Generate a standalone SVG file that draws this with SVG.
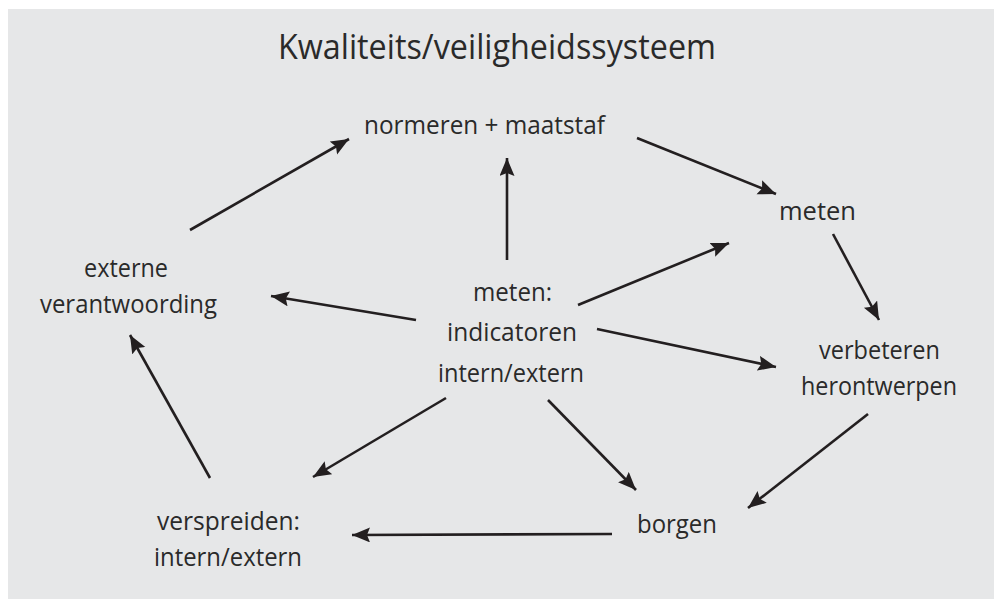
<svg xmlns="http://www.w3.org/2000/svg" width="994" height="599" viewBox="0 0 994 599">
<style>
.t{font-family:"Open Sans","Noto Sans",sans-serif;font-size:26px;fill:#2a2a2a;text-anchor:middle}
.title{font-family:"Open Sans","Noto Sans",sans-serif;font-size:34px;fill:#2a2a2a;text-anchor:middle}
.c line{stroke:#231f20;stroke-width:2.6;marker-end:url(#ah)}
</style>
<defs>
<marker id="ah" markerUnits="userSpaceOnUse" markerWidth="20" markerHeight="16" refX="18" refY="7.5" orient="auto">
<path d="M0,0 L18,7.5 L0,15 L3,7.5 z" fill="#231f20"/>
</marker>
</defs>
<rect x="0" y="0" width="994" height="599" fill="#ffffff"/>
<rect x="8" y="9" width="986" height="590" fill="#e6e7e8"/>
<text class="title" x="497" y="59" textLength="438" lengthAdjust="spacingAndGlyphs">Kwaliteits/veiligheidssysteem</text>
<g class="c" id="connectors">
<line x1="190" y1="230" x2="349" y2="139"/>
<line x1="637" y1="138" x2="776" y2="194"/>
<line x1="507" y1="260" x2="507" y2="158"/>
<line x1="578" y1="305" x2="729" y2="243"/>
<line x1="833" y1="234" x2="879" y2="320"/>
<line x1="597" y1="329" x2="776" y2="367"/>
<line x1="416" y1="320" x2="271" y2="296"/>
<line x1="868" y1="414" x2="748" y2="508"/>
<line x1="548" y1="400" x2="636" y2="490"/>
<line x1="446" y1="398" x2="313" y2="477"/>
<line x1="612" y1="534" x2="352" y2="535"/>
<line x1="210" y1="478" x2="130" y2="335"/>
</g>
<g id="normeren"><text class="t" x="484.5" y="134" textLength="241" lengthAdjust="spacingAndGlyphs">normeren + maatstaf</text></g>
<g id="meten"><text class="t" x="817.5" y="220" textLength="77" lengthAdjust="spacingAndGlyphs">meten</text></g>
<g id="externe"><text class="t" x="126" y="277" textLength="84" lengthAdjust="spacingAndGlyphs">externe</text><text class="t" x="128.5" y="313" textLength="177" lengthAdjust="spacingAndGlyphs">verantwoording</text></g>
<g id="indicatoren"><text class="t" x="512.5" y="301" textLength="79" lengthAdjust="spacingAndGlyphs">meten:</text><text class="t" x="512" y="341" textLength="130" lengthAdjust="spacingAndGlyphs">indicatoren</text><text class="t" x="511" y="382" textLength="146" lengthAdjust="spacingAndGlyphs">intern/extern</text></g>
<g id="verbeteren"><text class="t" x="879.5" y="359" textLength="121" lengthAdjust="spacingAndGlyphs">verbeteren</text><text class="t" x="879" y="395" textLength="156" lengthAdjust="spacingAndGlyphs">herontwerpen</text></g>
<g id="verspreiden"><text class="t" x="228.5" y="530" textLength="143" lengthAdjust="spacingAndGlyphs">verspreiden:</text><text class="t" x="228" y="566" textLength="148" lengthAdjust="spacingAndGlyphs">intern/extern</text></g>
<g id="borgen"><text class="t" x="677" y="533" textLength="80" lengthAdjust="spacingAndGlyphs">borgen</text></g>
</svg>
